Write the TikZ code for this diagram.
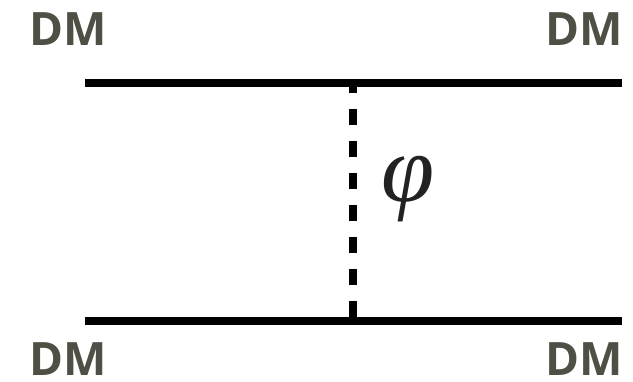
\documentclass[tikz,border=0pt]{standalone}
\usepackage{fontspec}
\newfontfamily\labelfont{Open Sans}
\newfontfamily\phifont{Liberation Serif}
\definecolor{dmgray}{HTML}{4F4F45}
\definecolor{phigray}{HTML}{222222}
\begin{document}
\begin{tikzpicture}[x=1pt,y=-1pt,
  dmlabel/.style={inner sep=0pt,text=dmgray,font=\labelfont\bfseries\fontsize{46}{50}\selectfont},
  fermion/.style={line width=8pt,black},
  scalar/.style={line width=8pt,black,dash pattern=on 16pt off 16pt,dash phase=6pt}]
\useasboundingbox (0,0) rectangle (633,382);
\coordinate (a1) at (85,83);
\coordinate (a2) at (622,83);
\coordinate (b1) at (85,321);
\coordinate (b2) at (622,321);
\coordinate (v1) at (353,83);
\coordinate (v2) at (353,321);
\draw[scalar] (v1) -- (v2);
\draw[fermion] (a1) -- (a2);
\draw[fermion] (b1) -- (b2);
\node[dmlabel] (tl) at (68.5,29) {DM};
\node[dmlabel] (tr) at (584,29) {DM};
\node[dmlabel] (bl) at (68.5,359) {DM};
\node[dmlabel] (br) at (584,359) {DM};
\node[inner sep=0pt,text=phigray,font=\phifont\itshape\fontsize{96}{100}\selectfont] (phi) at (408.5,189.5) {φ};
\end{tikzpicture}
\end{document}
